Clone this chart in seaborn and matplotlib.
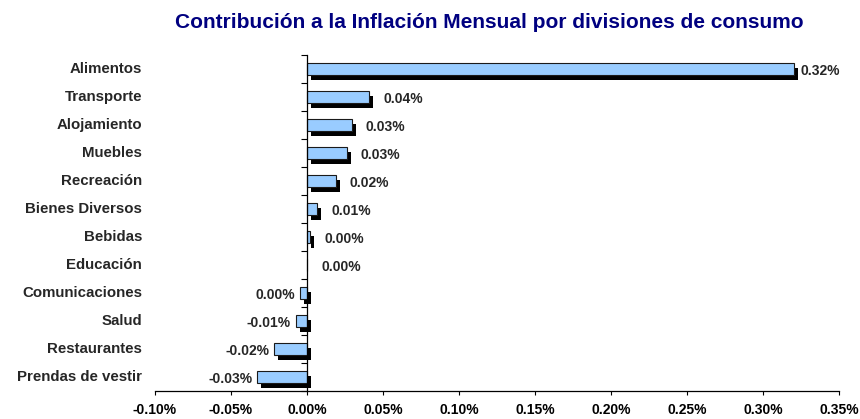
import matplotlib
matplotlib.use("Agg")
import matplotlib.pyplot as plt
import seaborn as sns
import pandas as pd
from matplotlib.transforms import ScaledTranslation, blended_transform_factory

categories = ["Alimentos", "Transporte", "Alojamiento", "Muebles", "Recreación",
              "Bienes Diversos", "Bebidas", "Educación", "Comunicaciones", "Salud",
              "Restaurantes", "Prendas de vestir"]
values = [0.3204, 0.041, 0.0296, 0.026, 0.0188, 0.0068, 0.0022, 0.0,
          -0.0045, -0.0075, -0.0215, -0.0327]
value_labels = ["0.32%", "0.04%", "0.03%", "0.03%", "0.02%", "0.01%", "0.00%",
                "0.00%", "0.00%", "-0.01%", "-0.02%", "-0.03%"]
x_ticks = [-0.10, -0.05, 0.00, 0.05, 0.10, 0.15, 0.20, 0.25, 0.30, 0.35]
x_tick_labels = ["-0.10%", "-0.05%", "0.00%", "0.05%", "0.10%", "0.15%",
                 "0.20%", "0.25%", "0.30%", "0.35%"]
title = "Contribución a la Inflación Mensual por divisiones de consumo"

sns.set_style("white")
plt.rcParams["font.family"] = ["Liberation Sans", "DejaVu Sans"]
plt.rcParams["font.weight"] = "bold"

df = pd.DataFrame({"category": categories, "value": values})

fig = plt.figure(figsize=(8.6, 4.19), dpi=100)
ax = fig.add_axes([155 / 860, 1 - 391 / 419, (839 - 155) / 860, (391 - 55) / 419])

# shadow bars
sns.barplot(data=df, x="value", y="category", orient="h", color="black",
            saturation=1, width=0.4, linewidth=0, ax=ax)
shadow = list(ax.patches)
off = ScaledTranslation(4 / 100, -5 / 100, fig.dpi_scale_trans)
for p in shadow:
    p.set_transform(ax.transData + off)
    p.set_clip_on(False)

# front bars
sns.barplot(data=df, x="value", y="category", orient="h", color="#99CCFF",
            saturation=1, width=0.4, edgecolor="#1a1a1a", linewidth=0.8, ax=ax)

ax.set_xlim(-0.10, 0.35)
ax.set_ylim(len(categories) - 0.5, -0.5)
ax.set_xlabel("")
ax.set_ylabel("")

ax.set_xticks(x_ticks)
ax.set_xticklabels(x_tick_labels, fontsize=10, fontweight="bold")
ax.tick_params(axis="x", direction="out", length=3, width=0.8, pad=6, bottom=True, colors="black")

# y axis at zero with boundary ticks
ax.spines["left"].set_position(("data", 0))
ax.spines["right"].set_visible(False)
ax.spines["top"].set_visible(False)
for s in ("left", "bottom"):
    ax.spines[s].set_color("black")
    ax.spines[s].set_linewidth(0.9)
ax.set_yticks([i - 0.5 for i in range(len(categories) + 1)])
ax.set_yticklabels([])
ax.tick_params(axis="y", direction="out", length=4, width=0.8, left=True, colors="black")

# category labels at left
trans = blended_transform_factory(ax.transAxes, ax.transData) + \
    ScaledTranslation(-13 / 100, 0, fig.dpi_scale_trans)
for i, c in enumerate(categories):
    ax.text(0, i, c, transform=trans, ha="right", va="center",
            fontsize=10.8, fontweight="bold")

# value labels
vmax = max(values)
for i, (v, lab) in enumerate(zip(values, value_labels)):
    if v >= 0:
        dx = 6 if v == vmax else 14
        ax.annotate(lab, (v, i), xytext=(dx * 0.72, -2 * 0.72), textcoords="offset points",
                    ha="left", va="center", fontsize=10, fontweight="bold")
    else:
        ax.annotate(lab, (v, i), xytext=(-5 * 0.72, -2 * 0.72), textcoords="offset points",
                    ha="right", va="center", fontsize=10, fontweight="bold")

fig.text(489 / 860, 1 - 23 / 419, title, ha="center", va="center",
         fontsize=15, fontweight="bold", color="#000080")

fig.savefig("out.png", dpi=100)
